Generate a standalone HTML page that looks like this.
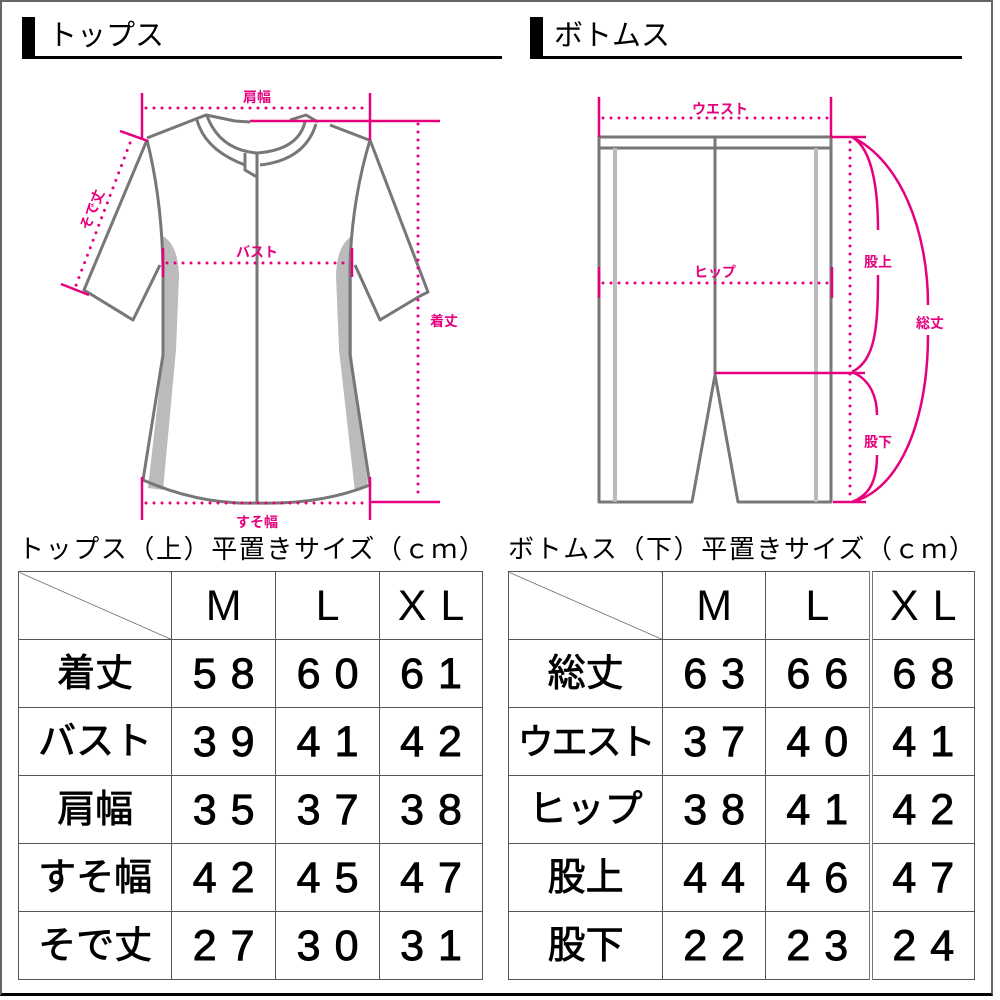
<!DOCTYPE html>
<html><head><meta charset="utf-8"><style>
html,body{margin:0;padding:0;background:#fff;}
body{width:1000px;height:1000px;position:relative;overflow:hidden;font-family:"Liberation Sans","Noto Sans CJK JP",sans-serif;}
.frame{position:absolute;left:0;top:0;width:993px;height:996px;border-left:2px solid #666;border-top:2px solid #666;border-right:2px solid #666;border-bottom:3px solid #000;box-sizing:border-box;}
.bar{position:absolute;background:#000;width:13px;height:40px;top:17px;}
.hline{position:absolute;height:3px;background:#000;top:56px;}
.h{position:absolute;top:16px;font-size:29px;line-height:40px;color:#000;}
.tt{position:absolute;top:532px;font-size:26px;line-height:34px;letter-spacing:1.6px;white-space:nowrap;}
table{position:absolute;border-collapse:collapse;top:571px;}
td{border:1.5px solid #555;height:67px;padding:0;text-align:center;vertical-align:middle;font-size:43px;line-height:40px;color:#000;}
td.l{font-size:38px;-webkit-text-stroke:0.8px #000;}
td.n{letter-spacing:14px;text-indent:14px;-webkit-text-stroke:0.9px #000;}
td.d{background:linear-gradient(to top right,transparent calc(50% - 0.7px),#555 50%,transparent calc(50% + 0.7px));}
</style></head><body>
<div class="frame"></div>
<div class="bar" style="left:22px"></div><div class="hline" style="left:22px;width:480px"></div>
<div class="h" style="left:48px">トップス</div>
<div class="bar" style="left:530px"></div><div class="hline" style="left:530px;width:432px"></div>
<div class="h" style="left:554px">ボトムス</div>

<svg width="1000" height="530" style="position:absolute;left:0;top:0" font-family="Liberation Sans, Noto Sans CJK JP, sans-serif">
<g fill="#bbb">
<path d="M163,236 Q178,245 179,275 L176,350 L163,490 L148,488 L163,355 Z"/>
<path d="M352,236 Q337,245 336,275 L339,350 L355,492 L368,486 L352,355 Z"/>
</g>
<g fill="none" stroke="#777" stroke-width="3" stroke-linejoin="round">
<path d="M147,138 L206,115 L235,121 L250,122"/>
<path d="M290,120 L306,115 L318,122"/>
<path d="M330,125 L369,140"/>
<path d="M197,120 Q205,150 245,165"/>
<path d="M207,116 Q220,150 257,153 Q298,150 305,122"/>
<path d="M316,124 Q305,160 260,165"/>
<path d="M245,153 L245,170 L257,177"/>
<path d="M257,153 L257,503"/>
<path d="M147,140 L84,290 L133,320 L160,265"/>
<path d="M147,140 Q162,200 163,270 L163,355 L143,480 Q200,505 257,503 Q320,505 370,485 L350,355 L350,265 Q352,200 370,140"/>
<path d="M370,140 L428,292 L420,296 L380,320 L355,265"/>
<path d="M599,137 L831,137 L831,502 L738,502 L715,375 L692,502 L599,502 Z"/>
<path d="M599,148 L831,148"/>
<path d="M715,137 L715,375"/>
</g>
<g stroke="#bbb" stroke-width="4"><path d="M615,148 V502 M816,148 V502"/></g>
<g stroke="#e6007e" stroke-width="2.5" fill="none">
<path d="M142,93 V140 M370,93 V140 M250,121 H440 M370,502 H440"/>
<path d="M163,248 V277 M352,248 V277"/>
<path d="M142,477 V520 M370,477 V520"/>
<path d="M120,131 L148,141 M61,284 L89,295"/>
<path d="M599,97 V137 M831,97 V137 M599,267 V298 M832,267 V298"/>
<path d="M831,137 H866 M715,373 H865 M833,502 H866"/>
<path d="M852,137 C875,150 878,200 878,230 M878,275 C878,330 875,360 852,372"/>
<path d="M852,372 C872,380 877,400 877,415 M877,455 C877,480 870,495 852,502"/>
<path d="M852,137 C900,160 928,230 928,305 M928,335 C928,420 900,490 852,502"/>
</g>
<g stroke="#e6007e" stroke-width="3" stroke-linecap="round" stroke-dasharray="0 8" fill="none">
<path d="M146,108 H368"/>
<path d="M418,124 V500"/>
<path d="M167,263 H350"/>
<path d="M146,503 H368"/>
<path d="M130,143 L75,288"/>
<path d="M603,118 H829"/>
<path d="M603,283 H829"/>
<path d="M850,142 V500"/>
</g>
<g fill="#e6007e" font-size="14" font-weight="bold" text-anchor="middle">
<text x="257" y="102">肩幅</text>
<text x="257" y="257">バスト</text>
<text x="257" y="527">すそ幅</text>
<text x="444" y="326">着丈</text>
<text x="93" y="214" transform="rotate(-68 93 210)">そで丈</text>
<text x="720" y="114">ウエスト</text>
<text x="715" y="277">ヒップ</text>
<text x="878" y="267">股上</text>
<text x="878" y="447">股下</text>
<text x="930" y="328">総丈</text>
</g>
</svg>

<div class="tt" style="left:18px">トップス（上）平置きサイズ（ｃｍ）</div>
<div class="tt" style="left:508px">ボトムス（下）平置きサイズ（ｃｍ）</div>

<table style="left:18px;width:465px">
<colgroup><col style="width:154px"><col style="width:104px"><col style="width:104px"><col style="width:103px"></colgroup>
<tr><td class="d"></td><td>M</td><td>L</td><td class="n" style="-webkit-text-stroke:0">XL</td></tr>
<tr><td class="l">着丈</td><td class="n">58</td><td class="n">60</td><td class="n">61</td></tr>
<tr><td class="l">バスト</td><td class="n">39</td><td class="n">41</td><td class="n">42</td></tr>
<tr><td class="l">肩幅</td><td class="n">35</td><td class="n">37</td><td class="n">38</td></tr>
<tr><td class="l">すそ幅</td><td class="n">42</td><td class="n">45</td><td class="n">47</td></tr>
<tr><td class="l">そで丈</td><td class="n">27</td><td class="n">30</td><td class="n">31</td></tr>
</table>

<table style="left:508px;width:467px">
<colgroup><col style="width:155px"><col style="width:103px"><col style="width:105px"><col style="width:104px"></colgroup>
<tr><td class="d"></td><td>M</td><td>L</td><td class="n" style="-webkit-text-stroke:0;border-left:4px double #777">XL</td></tr>
<tr><td class="l">総丈</td><td class="n">63</td><td class="n">66</td><td class="n" style="border-left:4px double #777">68</td></tr>
<tr><td class="l" style="font-size:36px;letter-spacing:-2px">ウエスト</td><td class="n">37</td><td class="n">40</td><td class="n" style="border-left:4px double #777">41</td></tr>
<tr><td class="l">ヒップ</td><td class="n">38</td><td class="n">41</td><td class="n" style="border-left:4px double #777">42</td></tr>
<tr><td class="l">股上</td><td class="n">44</td><td class="n">46</td><td class="n" style="border-left:4px double #777">47</td></tr>
<tr><td class="l">股下</td><td class="n">22</td><td class="n">23</td><td class="n" style="border-left:4px double #777">24</td></tr>
</table>
</body></html>
